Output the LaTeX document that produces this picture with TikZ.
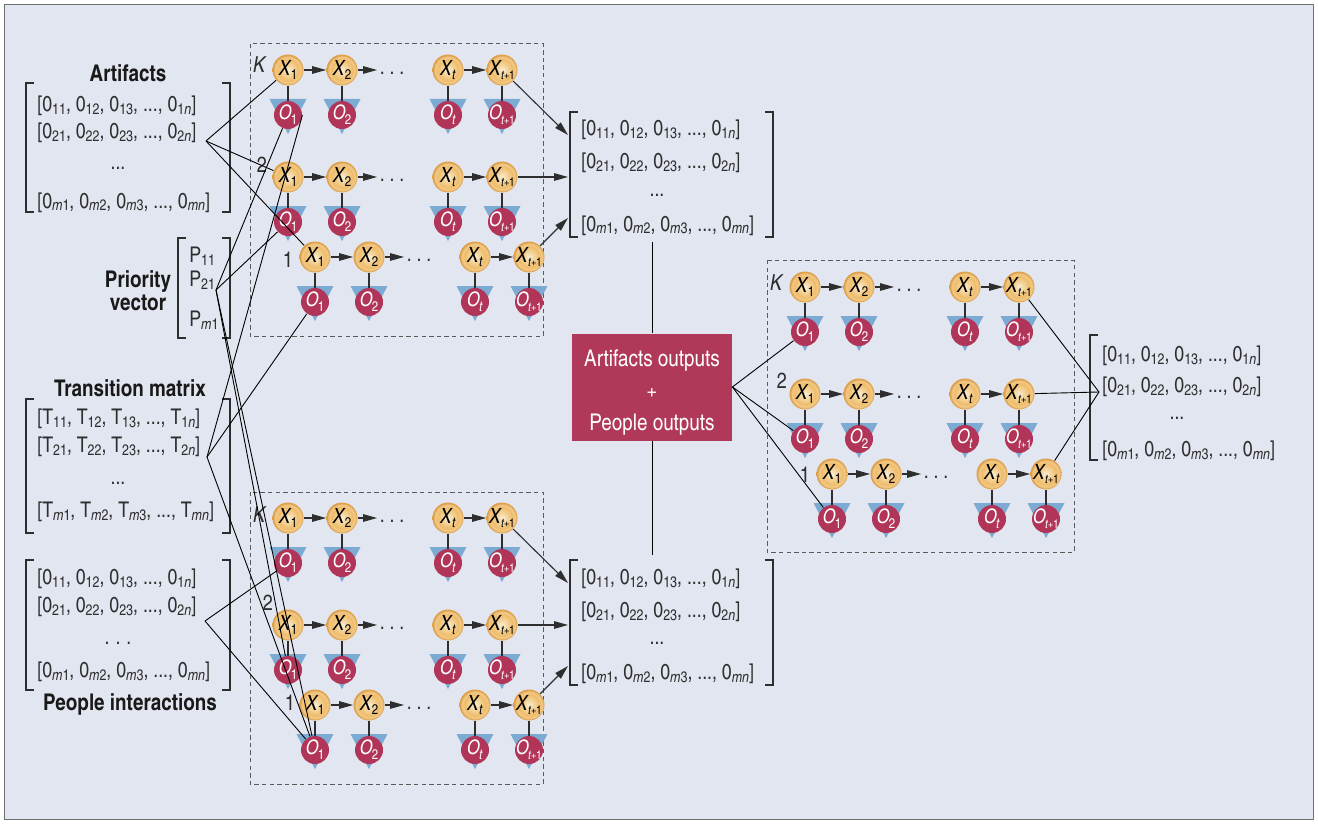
\documentclass[tikz,border=0pt]{standalone}
\usepackage{fontspec}
\setmainfont{texgyreheroscn}[Extension=.otf,UprightFont=*-regular,BoldFont=*-bold,ItalicFont=*-italic,BoldItalicFont=*-bolditalic]
\usetikzlibrary{arrows.meta}

\definecolor{bg}{HTML}{E2E6F0}
\definecolor{framegray}{HTML}{707070}
\definecolor{ink}{HTML}{2E2E2E}
\definecolor{crimson}{HTML}{B13558}
\definecolor{boxred}{HTML}{B0395A}
\definecolor{triblue}{HTML}{7BAAD2}
\definecolor{xa}{HTML}{FAF0D8}
\definecolor{xb}{HTML}{F5D8A4}
\definecolor{xc}{HTML}{EEBC6A}
\definecolor{xd}{HTML}{F2CC8C}
\definecolor{xe}{HTML}{DE9E48}
\pgfdeclareradialshading{xball}{\pgfpointorigin}{%
  color(0bp)=(xa); color(7bp)=(xb); color(17bp)=(xc); color(21bp)=(xd);
  color(24bp)=(xe); color(25bp)=(xe); color(50bp)=(xe)}

% lowered subscripts of the matrices and of the chain nodes
\newcommand\sbx[1]{\raisebox{-1.5pt}{\fontsize{7.6}{8}\selectfont #1}}
\newcommand\sbn[1]{\kern-0.4pt\raisebox{-2.4pt}{\fontsize{7}{8}\selectfont #1}}
\newcommand\tpo{\fontsize{6.1}{6.1}\selectfont\textit{t}\kern-0.2pt+\kern-0.3pt1}
\newcommand\vrow[2]{[#1\sbx{#21}, #1\sbx{#22}, #1\sbx{#23}, ..., #1\sbx{#2\textit{n}}]}
\newcommand\mfont{\fontsize{10.8}{12}\selectfont}
\newcommand\tfont{\fontsize{11.5}{12.5}\selectfont\bfseries}

\tikzset{
  xnode/.style={circle, minimum size=15.5pt, inner sep=0pt, shading=xball, text=black, font=\fontsize{10.5}{10.5}\selectfont},
  onode/.style={circle, minimum size=14pt, inner sep=0pt, fill=crimson, text=white, font=\fontsize{10}{10}\selectfont},
  stem/.style={draw=ink, line width=0.6pt},
  flow/.style={draw=ink, line width=0.55pt, -{Triangle[length=7pt,width=3.8pt]}},
  wire/.style={draw=black, line width=0.45pt},
  modbox/.style={draw=black!65, dash pattern=on 2.2pt off 1.6pt, line width=0.5pt},
  brk/.style={draw=ink, line width=0.65pt},
  mrow/.style={anchor=base west, inner sep=0pt, text=ink, font=\mfont},
  mdots/.style={inner sep=0pt, text=ink, font=\mfont},
  ttl/.style={anchor=base, inner sep=0pt, text=black!90, font=\tfont},
  rowtag/.style={anchor=base, inner sep=0pt, text=ink, font=\fontsize{11}{11}\selectfont},
  dotsnode/.style={inner sep=0pt, text=ink, font=\mfont},
  sumbox/.style={rectangle, fill=boxred, minimum width=80pt, minimum height=53.5pt, inner sep=0pt},
  sumtext/.style={inner sep=0pt, text=white, align=center, font=\fontsize{11.5}{16}\selectfont},
}

% brackets: x, top, bottom
\newcommand\lbrk[3]{\draw[brk] (#1+8,#2) -- (#1,#2) -- (#1,#3) -- (#1+8,#3);}
\newcommand\rbrk[3]{\draw[brk] (#1-8,#2) -- (#1,#2) -- (#1,#3) -- (#1-8,#3);}

% one hidden state with its observation: name, x, y, state index, output index
\newcommand\hmmcell[5]{%
  \fill[triblue] (#2-18.5,#3+29) -- (#2+18.5,#3+29) -- (#2,#3+64) -- cycle;
  \node[xnode] (#1X) at (#2,#3) {\makebox[0pt]{\textit{X}\sbn{#4}}};
  \node[onode] (#1O) at (#2,#3+45) {\makebox[0pt]{\textit{O}\sbn{#5}}};
  \draw[stem] (#1X) -- (#1O);
}
% one chain: tag, x offset, y offset
\newcommand\hmmrow[3]{%
  \hmmcell{#11}{#2}{#3}{1}{1}
  \hmmcell{#12}{#2+54}{#3}{2}{2}
  \hmmcell{#1t}{#2+160}{#3}{\textit{t}}{\textit{t}}
  \hmmcell{#1u}{#2+214}{#3}{\tpo}{\tpo}
  \coordinate (#1a) at (#2+89,#3);
  \node[dotsnode] (#1d) at (#2+104,#3+3) {.\hspace{2.4pt}.\hspace{2.4pt}.};
  \draw[flow] (#11X) -- (#12X);
  \draw[flow] (#12X) -- (#1a);
  \draw[flow] (#1tX) -- (#1uX);
}
% a stack of chains K, 2, 1
\newcommand\hmmmodule{%
  \hmmrow{K}{0}{0}
  \hmmrow{S}{0}{107}
  \hmmrow{F}{27}{187}
}

\begin{document}
\begin{tikzpicture}[x=0.5pt,y=-0.5pt]
\useasboundingbox (0,0) rectangle (1318,824);
\fill[white] (0,0) rectangle (1318,824);
\filldraw[fill=bg, draw=framegray, line width=0.6pt] (4.5,4.5) rectangle (1313.5,819.5);

% ---------- input matrices ----------
\node[ttl] (arttitle) at (128,82) {Artifacts};
\lbrk{26}{83}{212} \rbrk{230}{83}{212}
\node[mrow] (a1) at (37,112) {\vrow{0}{1}};
\node[mrow] (a2) at (37,139) {\vrow{0}{2}};
\node[mdots] (a3) at (118,168) {...};
\node[mrow] (a4) at (37,208) {\vrow{0}{\textit{m}}};
\coordinate (arthub) at (206,141);

\node[ttl] (prtitle1) at (138,287) {Priority};
\node[ttl] (prtitle2) at (138,310) {vector};
\lbrk{178}{238}{338} \rbrk{230}{238}{338}
\node[mrow] (p1) at (189,263) {P\sbx{11}};
\node[mrow] (p2) at (189,286) {P\sbx{21}};
\node[mrow] (p3) at (189,326) {P\sbx{\textit{m}1}};
\coordinate (prhub) at (216,290);

\node[ttl] (trtitle) at (130,396) {Transition matrix};
\lbrk{26}{399}{533} \rbrk{230}{399}{533}
\node[mrow] (t1) at (37,424) {\vrow{T}{1}};
\node[mrow] (t2) at (37,452) {\vrow{T}{2}};
\node[mdots] (t3) at (118,483) {...};
\node[mrow] (t4) at (37,517) {\vrow{T}{\textit{m}}};
\coordinate (trhub) at (207,457);

\lbrk{26}{560}{690} \rbrk{230}{560}{690}
\node[mrow] (q1) at (37,584) {\vrow{0}{1}};
\node[mrow] (q2) at (37,612) {\vrow{0}{2}};
\node[mdots] (q3) at (118,643) {.\hspace{3pt}.\hspace{3pt}.};
\node[mrow] (q4) at (37,677) {\vrow{0}{\textit{m}}};
\coordinate (pphub) at (205,621);
\node[ttl] (pptitle) at (130,710) {People interactions};

% ---------- model stacks ----------
\draw[modbox] (250,44) rectangle (543,336);
\draw[modbox] (250,492) rectangle (543,784);
\draw[modbox] (767,260) rectangle (1074,552);

\begin{scope}[shift={(288,70)}, name prefix=t-] \hmmmodule \end{scope}
\begin{scope}[shift={(288,518)}, name prefix=b-] \hmmmodule \end{scope}
\begin{scope}[shift={(805,287)}, name prefix=r-] \hmmmodule \end{scope}

\node[rowtag] (tK) at (260,73) {\textit{K}};
\node[rowtag] (t2) at (262,172) {2};
\node[rowtag] (t1) at (288,267) {1};
\node[rowtag] (bK) at (260,522) {\textit{K}};
\node[rowtag] (b2) at (268,610) {2};
\node[rowtag] (b1) at (290,710) {1};
\node[rowtag] (rK) at (777,290) {\textit{K}};
\node[rowtag] (r2) at (782,388) {2};
\node[rowtag] (r1) at (805,482) {1};

% ---------- output matrices ----------
\lbrk{570}{112}{237} \rbrk{773}{112}{237}
\node[mrow] (o1) at (581,136) {\vrow{0}{1}};
\node[mrow] (o2) at (581,169) {\vrow{0}{2}};
\node[mdots] (o3) at (657,195) {...};
\node[mrow] (o4) at (581,231) {\vrow{0}{\textit{m}}};

\lbrk{570}{560}{685} \rbrk{773}{560}{685}
\node[mrow] (u1) at (581,584) {\vrow{0}{1}};
\node[mrow] (u2) at (581,617) {\vrow{0}{2}};
\node[mdots] (u3) at (657,643) {...};
\node[mrow] (u4) at (581,679) {\vrow{0}{\textit{m}}};

\lbrk{1090}{335}{460}
\node[mrow] (w1) at (1102,361) {\vrow{0}{1}};
\node[mrow] (w2) at (1102,392) {\vrow{0}{2}};
\node[mdots] (w3) at (1177,418) {...};
\node[mrow] (w4) at (1102,456) {\vrow{0}{\textit{m}}};
\coordinate (rhub) at (1099,392);

\node[sumbox] (sum) at (652,387) {};
\node[sumtext] (sumtxt) at (652,393) {Artifacts outputs\\+\\People outputs};

% ---------- connectors ----------
\draw[wire] (arthub) -- (t-K1X);
\draw[wire] (arthub) -- (t-S1X);
\draw[wire] (arthub) -- (t-F1X);
\draw[wire] (prhub) -- (t-K1O);
\draw[wire] (prhub) -- (t-S1O);
\draw[wire] (prhub) -- (b-S1O);
\draw[wire] (prhub) -- (b-F1O);
\draw[wire] (trhub) -- (t-K1O.east);
\draw[wire] (trhub) -- (t-F1O);
\draw[wire] (trhub) -- (b-F1O);
\draw[wire] (pphub) -- (b-K1O);
\draw[wire] (pphub) -- (b-F1O);

\coordinate (tin1) at (568,135);
\coordinate (tin2) at (568,177);
\coordinate (tin3) at (568,218);
\draw[flow] (t-KuX) -- (tin1);
\draw[flow] (t-SuX) -- (tin2);
\draw[flow] (t-FuX) -- (tin3);
\coordinate (bin1) at (568,583);
\coordinate (bin2) at (568,625);
\coordinate (bin3) at (568,666);
\draw[flow] (b-KuX) -- (bin1);
\draw[flow] (b-SuX) -- (bin2);
\draw[flow] (b-FuX) -- (bin3);

\coordinate (tstem) at (652,242);
\coordinate (bstem) at (652,555);
\draw[wire] (tstem) -- (sum.north);
\draw[wire] (sum.south) -- (bstem);
\draw[wire] (sum.east) -- (r-K1O);
\draw[wire] (sum.east) -- (r-S1O);
\draw[wire] (sum.east) -- (r-F1O);

\draw[wire] (r-KuX) -- (rhub);
\draw[wire] (r-SuX) -- (rhub);
\draw[wire] (r-FuX) -- (rhub);
\end{tikzpicture}
\end{document}
